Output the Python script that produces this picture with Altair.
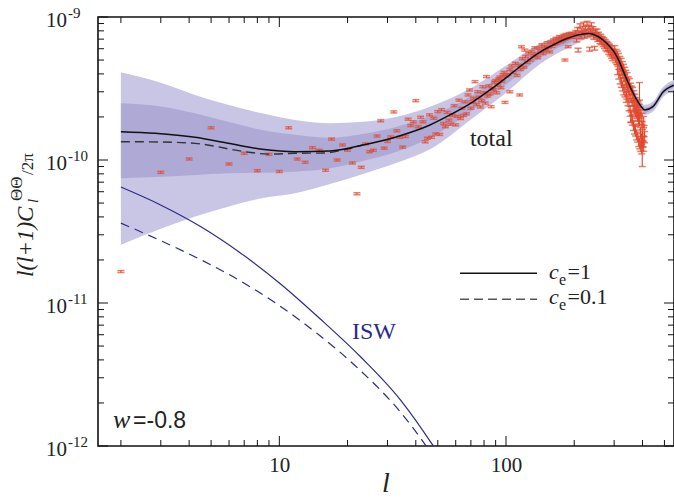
import altair as alt
import pandas as pd

W, H = 576, 429
SERIF = "Liberation Serif"
SANS = "Liberation Sans"
RED = "#e1482e"
BLUE = "#2b2b8c"
OUTER = "#c8c6e4"
INNER = "#aeaad5"

# ---------------- theory bands (values in units of 1e-10) ----------------
band_l = [2, 3.04, 4.25, 5.94, 8.39, 11.73, 16.73, 23.4, 33.0, 46.2, 71.5, 100.9,
          141.3, 205, 230, 268, 309, 342, 378, 410, 445, 493, 551]
outer_hi = [4.10, 3.44, 2.85, 2.43, 2.12, 1.905, 1.81, 1.85, 2.01, 2.36, 3.24, 4.61,
            6.52, 8.05, 8.30, 7.48, 5.71, 3.93, 2.85, 2.43, 2.56, 3.24, 3.62]
inner_hi = [2.49, 2.36, 2.12, 1.85, 1.62, 1.50, 1.43, 1.52, 1.71, 2.03, 2.85, 4.19,
            6.07, 7.67, 7.97, 7.18, 5.49, 3.77, 2.74, 2.33, 2.46, 3.11, 3.48]
inner_lo = [0.745, 0.764, 0.786, 0.807, 0.815, 0.828, 0.875, 0.984, 1.14, 1.43, 2.24, 3.40,
            5.16, 6.91, 7.35, 6.63, 5.06, 3.48, 2.53, 2.15, 2.27, 2.87, 3.21]
outer_lo = [0.255, 0.333, 0.402, 0.472, 0.540, 0.585, 0.679, 0.798, 0.957, 1.19, 1.97, 2.99,
            4.69, 6.49, 7.06, 6.37, 4.86, 3.34, 2.43, 2.07, 2.18, 2.76, 3.08]

# ---------------- total spectrum, c_e = 1 (solid) and c_e = 0.1 (dashed) ----------------
tot_l = [2, 2.83, 4.25, 5.94, 8.39, 11.73, 16.73, 23.4, 33.0, 46.2, 56.6, 71.5, 79.2, 100.9,
         111.8, 141.3, 156.4, 185.8, 218.6, 230, 242.2, 268, 309, 342, 378, 410, 445, 493, 551]
tot_c = [1.578, 1.537, 1.441, 1.308, 1.188, 1.143, 1.156, 1.274, 1.456, 1.758, 2.066, 2.55, 2.85,
         3.80, 4.33, 5.69, 6.22, 7.08, 7.61, 7.67, 7.57, 6.90, 5.27, 3.62, 2.63, 2.24, 2.36, 2.99, 3.34]
dash_l = [2, 2.98, 4.25, 7.06, 8.91, 11.73, 15.59, 19.5, 23.4]
dash_c = [1.343, 1.337, 1.308, 1.143, 1.10, 1.114, 1.119, 1.183, 1.274]

# ---------------- ISW contribution (absolute values) ----------------
isw_l = [2, 2.977, 4.47, 6.71, 10.07, 15.12, 22.7, 34.07, 47.2, 56.6]
isw_c = [6.47e-11, 4.87e-11, 3.44e-11, 2.25e-11, 1.37e-11, 7.76e-12, 4.24e-12, 2.12e-12,
         1.03e-12, 6.58e-13]
iswd_l = [2, 2.977, 4.47, 6.71, 10.07, 15.12, 22.7, 34.07, 45.3, 53.8]
iswd_c = [3.62e-11, 2.74e-11, 2.02e-11, 1.43e-11, 9.51e-12, 5.90e-12, 3.39e-12, 1.74e-12,
          9.55e-13, 6.27e-13]

# ---------------- data points (units of 1e-10) ----------------
d1_l = list(range(2, 101)) + list(range(102, 201, 2)) + [117, 121, 182, 115, 104]
d1_c = [0.166, 0.820, 1.016, 1.68, 0.938, 1.114, 0.842, 1.096, 0.831, 1.68,
        1.016, 0.964, 1.22, 1.17, 0.848, 1.40, 1.00, 1.274, 1.17, 0.953,
        0.581, 0.889, 1.294, 1.143, 1.17, 1.47, 1.88, 1.21, 1.35, 1.45,
        2.17, 1.60, 1.44, 1.23, 1.46, 1.93, 1.74, 1.85, 2.60, 1.71,
        1.99, 1.85, 1.34, 1.42, 2.07, 1.44, 1.96, 1.52, 2.18, 1.51,
        2.25, 1.80, 1.71, 2.15, 1.90, 1.78, 2.05, 2.40, 1.76, 2.02,
        2.62, 1.95, 2.30, 2.05, 2.55, 2.10, 2.85, 3.09, 2.30, 2.55,
        2.70, 3.53, 2.45, 3.00, 2.75, 2.35, 2.60, 3.25, 2.95, 2.50,
        3.83, 2.80, 3.30, 2.90, 2.36, 3.15, 3.10, 3.50, 3.60, 2.95,
        3.35, 3.70, 3.80, 3.20, 3.55, 3.95, 4.10, 2.53, 3.85,
        3.95, 4.30, 4.55, 4.10, 4.75, 3.90, 4.60, 4.30, 5.10, 4.45,
        5.30, 4.80, 5.60, 5.00, 5.75, 5.35, 6.10, 5.50, 5.20, 6.05,
        5.70, 6.40, 5.55, 6.20, 5.85, 6.60, 6.15, 5.70, 6.70, 6.25,
        6.90, 6.45, 7.10, 6.55, 6.95, 7.30, 6.70, 7.20, 6.85, 7.45,
        7.00, 7.55, 7.10, 6.20, 7.65, 7.25, 7.70, 7.20, 7.45, 7.60,
        6.19, 5.87, 5.00, 2.85, 3.00]
d2_l = [203, 205, 207, 208, 210] + list(range(212, 301, 2))
d2_c = [7.80, 6.90, 8.20, 5.87, 7.55, 8.70, 7.25, 8.05, 7.70, 8.90,
        7.35, 8.30, 7.90, 9.05, 7.50, 8.45, 5.95, 8.10, 8.85, 7.60,
        8.30, 7.20, 6.05, 7.95, 7.40, 8.00, 6.95, 7.60, 7.05, 6.70,
        7.35, 6.60, 7.10, 6.40, 6.95, 6.20, 6.75, 6.00, 6.55, 5.90,
        6.45, 5.65, 6.25, 5.50, 6.10, 5.30, 5.85, 5.10, 5.70, 5.25]
d3_l = list(range(302, 361, 2))
d3_c = [5.95, 5.10, 5.60, 4.95, 5.45, 4.80, 5.25, 4.55, 5.00, 4.40,
        4.85, 4.15, 4.60, 3.95, 4.40, 3.75, 4.20, 3.55, 4.00, 3.40,
        3.85, 3.20, 3.60, 3.05, 3.50, 2.85, 3.25, 2.70, 3.10, 2.55]
d4_l = list(range(362, 401, 2)) + [403, 405, 407, 409]
d4_c = [2.95, 2.40, 2.80, 2.30, 2.65, 2.20, 2.50, 2.15, 2.40, 2.05,
        2.35, 1.95, 2.25, 1.90, 2.15, 1.55, 2.05, 1.40, 1.95, 1.50,
        1.35, 1.85, 1.60, 1.45]
d5_l = [311, 315, 319, 323, 327, 331, 335, 339, 341, 345, 349, 353, 357, 361, 365, 369,
        373, 377, 381, 385, 389, 393, 397, 401, 405]
d5_c = [4.30, 4.00, 3.70, 3.50, 3.30, 3.10, 3.00, 2.75, 2.90, 2.60, 2.40, 2.20, 2.00, 1.90,
        1.75, 1.65, 1.60, 1.50, 1.45, 1.35, 1.30, 1.25, 1.20, 1.35, 1.25]
seg_err = [0.016, 0.03, 0.06, 0.09, 0.08]          # relative half-size of the error bars
big_l = [355, 388, 399]
big_c = [2.03, 3.04, 1.29]
big_lo = [1.83, 2.62, 0.90]
big_hi = [2.23, 3.48, 1.85]

# ---------------- axes ----------------
x_domain = [1.585, 551]
y_domain = [1e-12, 1e-9]
x_labels = [10, 100]
y_major = [1e-12, 1e-11, 1e-10, 1e-9]
y_exp = ["-12", "-11", "-10", "-9"]
mult = [2, 3, 4, 5, 6, 7, 8, 9]
y_minor = [m * d for d in [1e-12, 1e-11, 1e-10] for m in mult]
x_major = [10, 100]
x_minor = [m * d for d in [1, 10, 100] for m in mult if m * d < 551]

# ---------------- tables ----------------
S = 1e-10
band = pd.DataFrame({"l": band_l, "ohi": [v * S for v in outer_hi], "olo": [v * S for v in outer_lo],
                     "ihi": [v * S for v in inner_hi], "ilo": [v * S for v in inner_lo]})
tot = pd.DataFrame({"l": tot_l, "c": [v * S for v in tot_c]})
dash = pd.DataFrame({"l": dash_l, "c": [v * S for v in dash_c]})
isw = pd.DataFrame({"l": isw_l, "c": isw_c})
iswd = pd.DataFrame({"l": iswd_l, "c": iswd_c})
rows = []
for ls, cs, e in zip([d1_l, d2_l, d3_l, d4_l, d5_l], [d1_c, d2_c, d3_c, d4_c, d5_c], seg_err):
    for l, c in zip(ls, cs):
        rows.append({"l": l, "c": c * S, "lo": c * (1 - e) * S, "hi": c * (1 + e) * S})
for l, c, lo, hi in zip(big_l, big_c, big_lo, big_hi):
    rows.append({"l": l, "c": c * S, "lo": lo * S, "hi": hi * S})
pts = pd.DataFrame(rows)

xs = alt.Scale(type="log", domain=x_domain, nice=False)
ys = alt.Scale(type="log", domain=y_domain, nice=False)
xaxis = alt.Axis(values=x_labels, format="d", ticks=False, tickSize=0, domain=False, grid=False,
                 labelFont=SERIF, labelFontSize=21, labelColor="#222", labelPadding=8, title=None)


def X(f):
    return alt.X(f, type="quantitative", scale=xs, axis=xaxis)


def Y(f):
    return alt.Y(f, type="quantitative", scale=ys, axis=None)


layers = []
layers.append(alt.Chart(band).mark_area(color=OUTER, interpolate="monotone", clip=True)
              .encode(x=X("l"), y=Y("olo"), y2="ohi"))
layers.append(alt.Chart(band).mark_area(color=INNER, interpolate="monotone", clip=True)
              .encode(x=X("l"), y=Y("ilo"), y2="ihi"))
layers.append(alt.Chart(pts).mark_rule(color=RED, strokeWidth=1.1)
              .encode(x=X("l"), y=Y("lo"), y2="hi"))
layers.append(alt.Chart(pts).mark_tick(color=RED, orient="horizontal", size=7, thickness=1.5)
              .encode(x=X("l"), y=Y("lo")))
layers.append(alt.Chart(pts).mark_tick(color=RED, orient="horizontal", size=7, thickness=1.5)
              .encode(x=X("l"), y=Y("hi")))
layers.append(alt.Chart(isw).mark_line(color=BLUE, strokeWidth=1.2, interpolate="monotone", clip=True)
              .encode(x=X("l"), y=Y("c")))
layers.append(alt.Chart(iswd).mark_line(color=BLUE, strokeWidth=1.2, strokeDash=[9, 6],
                                        interpolate="monotone", clip=True)
              .encode(x=X("l"), y=Y("c")))
layers.append(alt.Chart(dash).mark_line(color="#333", strokeWidth=1.4, strokeDash=[9, 5],
                                        interpolate="monotone", clip=True)
              .encode(x=X("l"), y=Y("c")))
layers.append(alt.Chart(tot).mark_line(color="#111", strokeWidth=1.5, interpolate="monotone", clip=True)
              .encode(x=X("l"), y=Y("c")))

# legend lines
leg_s = pd.DataFrame({"x1": [62.7], "x2": [137], "y": [1.614e-11]})
leg_d = pd.DataFrame({"x1": [62.7], "x2": [137], "y": [1.061e-11]})
layers.append(alt.Chart(leg_s).mark_rule(color="#111", strokeWidth=1.4)
              .encode(x=X("x1"), x2="x2", y=Y("y")))
layers.append(alt.Chart(leg_d).mark_rule(color="#555", strokeWidth=1.4, strokeDash=[9, 5])
              .encode(x=X("x1"), x2="x2", y=Y("y")))


def txt(df, **kw):
    return alt.Chart(df).mark_text(baseline="alphabetic", align="left", **kw).encode(
        x=X("x"), y=Y("y"), text="t")


layers.append(txt(pd.DataFrame({"x": [154.9, 154.9], "y": [1.466e-11, 9.84e-12], "t": ["c", "c"]}),
                  font=SERIF, fontSize=22, fontStyle="italic", color="#222"))
layers.append(txt(pd.DataFrame({"x": [171.3, 171.3], "y": [1.336e-11, 8.93e-12], "t": ["e", "e"]}),
                  font=SERIF, fontSize=16, color="#222"))
layers.append(txt(pd.DataFrame({"x": [187, 187], "y": [1.466e-11, 9.84e-12], "t": ["=1", "=0.1"]}),
                  font=SERIF, fontSize=22, color="#222"))
layers.append(txt(pd.DataFrame({"x": [69.3], "y": [1.253e-10], "t": ["total"]}),
                  font=SERIF, fontSize=24, color="#222"))
layers.append(txt(pd.DataFrame({"x": [20.9], "y": [5.6e-12], "t": ["ISW"]}),
                  font=SERIF, fontSize=24, color=BLUE))
layers.append(txt(pd.DataFrame({"x": [1.847], "y": [1.336e-12], "t": ["w"]}),
                  font=SERIF, fontSize=26, fontStyle="italic", color="#222"))
layers.append(txt(pd.DataFrame({"x": [2.263], "y": [1.336e-12], "t": ["=-0.8"]}),
                  font=SANS, fontSize=23, color="#222"))

# y tick labels 10^n
ylab = pd.DataFrame({"v": y_major, "e": y_exp})
layers.append(alt.Chart(ylab).mark_text(align="right", baseline="alphabetic", font=SERIF, fontSize=21,
                                        dy=10, color="#222")
              .encode(y=Y("v"), x=alt.value(-31), text=alt.value("10")))
layers.append(alt.Chart(ylab).mark_text(align="left", baseline="alphabetic", font=SERIF, fontSize=15,
                                        dy=1, color="#222")
              .encode(y=Y("v"), x=alt.value(-30), text="e"))

# y axis title pieces (rotated)
one = pd.DataFrame({"a": [0]})


def rot(t, x, y, size, style="normal", font=SERIF):
    return alt.Chart(one).mark_text(angle=270, align="left", baseline="alphabetic", font=font,
                                    fontSize=size, fontStyle=style, color="#222").encode(
        x=alt.value(x), y=alt.value(y), text=alt.value(t))


layers.append(rot("l(l+1)", -65, 260, 23, "italic"))
layers.append(rot("C", -65, 205, 23, "italic"))
layers.append(rot("ΘΘ", -76, 184, 17))
layers.append(rot("l", -60, 186, 15, "italic"))
layers.append(rot("/2π", -65, 158, 17))
# x axis title
layers.append(alt.Chart(one).mark_text(align="center", baseline="alphabetic", font=SERIF, fontSize=28,
                                       fontStyle="italic", color="#222")
              .encode(x=alt.value(288), y=alt.value(475), text=alt.value("l")))

# inward ticks on all four sides
ymaj = pd.DataFrame({"v": y_major})
ymin = pd.DataFrame({"v": y_minor})
xmaj = pd.DataFrame({"v": x_major})
xmin = pd.DataFrame({"v": x_minor})
for df, ln in [(ymaj, 10), (ymin, 6)]:
    layers.append(alt.Chart(df).mark_rule(color="#111", strokeWidth=1)
                  .encode(y=Y("v"), x=alt.value(0), x2=alt.value(ln)))
    layers.append(alt.Chart(df).mark_rule(color="#111", strokeWidth=1)
                  .encode(y=Y("v"), x=alt.value(W), x2=alt.value(W - ln)))
for df, ln in [(xmaj, 10), (xmin, 6)]:
    layers.append(alt.Chart(df).mark_rule(color="#111", strokeWidth=1)
                  .encode(x=X("v"), y=alt.value(H), y2=alt.value(H - ln)))
    layers.append(alt.Chart(df).mark_rule(color="#111", strokeWidth=1)
                  .encode(x=X("v"), y=alt.value(0), y2=alt.value(ln)))

chart = alt.layer(*layers).properties(
    width=W, height=H,
    autosize=alt.AutoSizeParams(type="none"),
    padding={"left": 98, "top": 17, "right": 0, "bottom": 52},
    background="white",
).configure_view(stroke="#111", strokeWidth=1.6)

chart.save("out.html", embed_options={"renderer": "svg", "actions": False})
